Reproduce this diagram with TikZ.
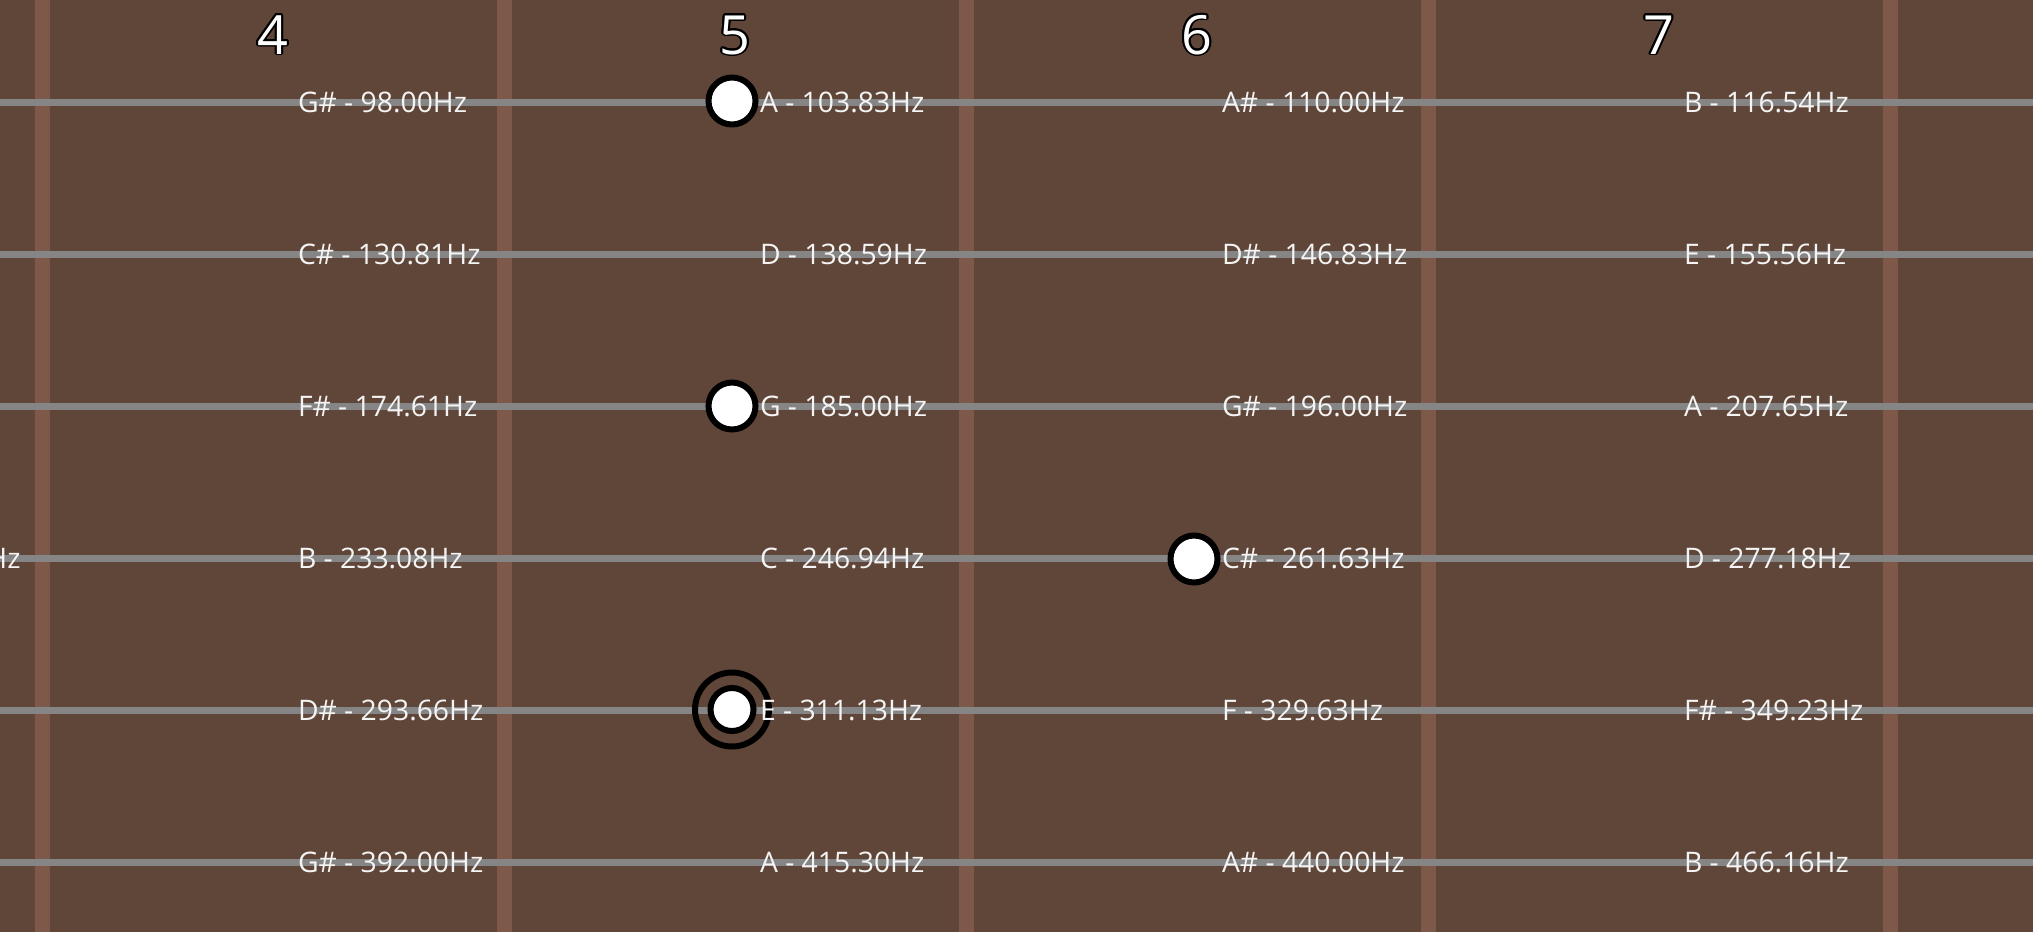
\documentclass[tikz,border=0pt]{standalone}
\usepackage{fontspec}
\setmainfont{Open Sans}
\usetikzlibrary{calc}
\definecolor{wood}{HTML}{604638}
\definecolor{fretc}{HTML}{7E5949}
\definecolor{strc}{HTML}{858585}
\definecolor{txt}{HTML}{F4F4F4}
\begin{document}
\begin{tikzpicture}[x=1pt,y=-1pt,
  lbl/.style={anchor=base west,inner sep=0pt,outer sep=0pt,text=txt,
    font=\fontsize{28.3}{28}\selectfont,yshift=-9.8pt},
  numtxt/.style={anchor=base,inner sep=0pt,outer sep=0pt,
    font=\fontsize{54}{54}\selectfont},
  dot/.style={circle,draw=black,line width=6pt,fill=white,inner sep=0pt,minimum size=47pt},
  smalldot/.style={circle,draw=black,line width=6pt,fill=white,inner sep=0pt,minimum size=43pt},
  ring/.style={circle,draw=black,line width=6pt,inner sep=0pt,minimum size=74pt}]
\useasboundingbox (0,0) rectangle (2033,932);
\fill[wood] (0,0) rectangle (2033,932);
\begin{scope}
\clip (0,0) rectangle (2033,932);
% frets
\foreach \x in {42,504,966,1428,1890}
  \fill[fretc] (\x-7.5,0) rectangle (\x+7.5,932);
% strings
\foreach \y in {102.7,254.7,406.7,558.7,710.7,862.7}
  \draw[strc,line width=7pt] (0,\y) -- (2033,\y);
% fret numbers with outline
\foreach \n/\x in {4/273,5/735,6/1197,7/1659}{
  \foreach \a in {0,22.5,...,337.5}
    \node[numtxt,text=black] at ($(\x,54)+(\a:1.9)$) {\n};
  \node[numtxt,text=white] (num\n) at (\x,54) {\n};
}
% dots (drawn under the labels)
\node[dot] (d1) at (732,101) {};
\node[dot] (d2) at (732,406) {};
\node[dot] (d3) at (1194,559) {};
\node[ring] (r4) at (732,709.5) {};
\node[smalldot] (d4) at (732,709.5) {};
% labels, fret 3 (partial)
\node[lbl] (l-3-4) at (-162,558.7) {A\# - 220.00Hz};
% fret 4
\node[lbl] (l-4-1) at (298,102.7) {G\# - 98.00Hz};
\node[lbl] (l-4-2) at (298,254.7) {C\# - 130.81Hz};
\node[lbl] (l-4-3) at (298,406.7) {F\# - 174.61Hz};
\node[lbl] (l-4-4) at (298,558.7) {B - 233.08Hz};
\node[lbl] (l-4-5) at (298,710.7) {D\# - 293.66Hz};
\node[lbl] (l-4-6) at (298,862.7) {G\# - 392.00Hz};
% fret 5
\node[lbl] (l-5-1) at (760,102.7) {A - 103.83Hz};
\node[lbl] (l-5-2) at (760,254.7) {D - 138.59Hz};
\node[lbl] (l-5-3) at (760,406.7) {G - 185.00Hz};
\node[lbl] (l-5-4) at (760,558.7) {C - 246.94Hz};
\node[lbl] (l-5-5) at (760,710.7) {E - 311.13Hz};
\node[lbl] (l-5-6) at (760,862.7) {A - 415.30Hz};
% fret 6
\node[lbl] (l-6-1) at (1222,102.7) {A\# - 110.00Hz};
\node[lbl] (l-6-2) at (1222,254.7) {D\# - 146.83Hz};
\node[lbl] (l-6-3) at (1222,406.7) {G\# - 196.00Hz};
\node[lbl] (l-6-4) at (1222,558.7) {C\# - 261.63Hz};
\node[lbl] (l-6-5) at (1222,710.7) {F - 329.63Hz};
\node[lbl] (l-6-6) at (1222,862.7) {A\# - 440.00Hz};
% fret 7
\node[lbl] (l-7-1) at (1684,102.7) {B - 116.54Hz};
\node[lbl] (l-7-2) at (1684,254.7) {E - 155.56Hz};
\node[lbl] (l-7-3) at (1684,406.7) {A - 207.65Hz};
\node[lbl] (l-7-4) at (1684,558.7) {D - 277.18Hz};
\node[lbl] (l-7-5) at (1684,710.7) {F\# - 349.23Hz};
\node[lbl] (l-7-6) at (1684,862.7) {B - 466.16Hz};
\end{scope}
\end{tikzpicture}
\end{document}
